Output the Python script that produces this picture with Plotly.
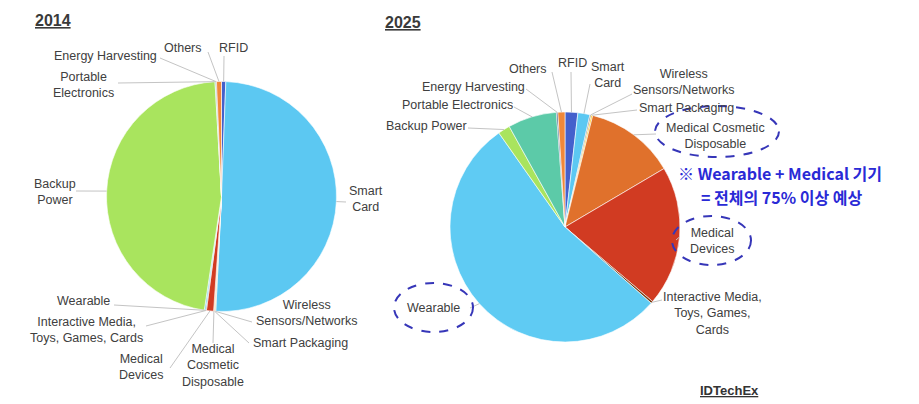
import math
import plotly.graph_objects as go

# ---------------- data ----------------
categories = [
    "RFID", "Smart Card", "Wireless Sensors/Networks", "Smart Packaging",
    "Medical Cosmetic Disposable", "Medical Devices",
    "Interactive Media, Toys, Games, Cards", "Wearable", "Backup Power",
    "Portable Electronics", "Energy Harvesting", "Others",
]
share_2014 = [0.6, 50.3, 0.1, 0.1, 0.1, 1.0, 0.1, 0.2, 46.8, 0.1, 0.1, 0.7]
share_2025 = [1.8, 1.7, 0.2, 0.2, 12.7, 19.8, 0.3, 54.0, 1.7, 6.9, 0.2, 1.0]
year_titles = ["2014", "2025"]

colors = [
    "#4460cc", "#5cc8f2", "#8c8c8c", "#ffc000", "#e0712c", "#d13b22",
    "#7a3a10", "#5fcbf3", "#a9e45e", "#5ccaa8", "#264478", "#f0883a",
]

# ---------------- layout constants ----------------
W, H = 919, 404
pies = [
    dict(values=share_2014, cx=221.5, cy=196.5, r=115),
    dict(values=share_2025, cx=565.0, cy=227.0, r=115),
]

# label text, text centre, leader start (pixels)
labels_2014 = {
    "RFID": ("RFID", 233, 48, 224, 56),
    "Smart Card": ("Smart<br>Card", 366, 199, 346, 202),
    "Wireless Sensors/Networks": ("Wireless<br>Sensors/Networks", 306, 313, 252, 322),
    "Smart Packaging": ("Smart Packaging", 300, 343, 249, 343),
    "Medical Cosmetic Disposable": ("Medical<br>Cosmetic<br>Disposable", 213, 365, 213, 343),
    "Medical Devices": ("Medical<br>Devices", 141, 367, 170, 368),
    "Interactive Media, Toys, Games, Cards": ("Interactive Media,<br>Toys, Games, Cards", 86, 330, 146, 326),
    "Wearable": ("Wearable", 83, 301, 114, 305),
    "Backup Power": ("Backup<br>Power", 55, 192, 76, 191),
    "Portable Electronics": ("Portable<br>Electronics", 83, 85, 118, 83),
    "Energy Harvesting": ("Energy Harvesting", 105, 56, 160, 58),
    "Others": ("Others", 183, 48, 208, 52),
}
labels_2025 = {
    "RFID": ("RFID", 572, 63, 571, 72),
    "Smart Card": ("Smart<br>Card", 608, 75, 590, 84),
    "Wireless Sensors/Networks": ("Wireless<br>Sensors/Networks", 683, 82, 632, 94),
    "Smart Packaging": ("Smart Packaging", 686, 108, 637, 110),
    "Medical Cosmetic Disposable": ("Medical Cosmetic<br>Disposable", 715, 136, 656, 134),
    "Medical Devices": ("Medical<br>Devices", 712, 241, 676, 240),
    "Interactive Media, Toys, Games, Cards": ("Interactive Media,<br>Toys, Games,<br>Cards", 712, 313, 662, 300),
    "Wearable": ("Wearable", 433, 308, 470, 308),
    "Backup Power": ("Backup Power", 426, 126, 468, 128),
    "Portable Electronics": ("Portable Electronics", 457, 105, 514, 107),
    "Energy Harvesting": ("Energy Harvesting", 473, 87, 526, 89),
    "Others": ("Others", 528, 69, 552, 72),
}
label_sets = [labels_2014, labels_2025]

LABEL_FONT = dict(family="Liberation Sans, Arial, sans-serif", size=12.5, color="#404040")
LEADER = dict(color="#c4c4c4", width=1)

fig = go.Figure()

shapes = []
annotations = []

for p, labset, title in zip(pies, label_sets, year_titles):
    cx, cy, r = p["cx"], p["cy"], p["r"]
    fig.add_trace(go.Pie(
        labels=categories, values=p["values"], sort=False,
        direction="clockwise", rotation=0,
        marker=dict(colors=colors, line=dict(color="#ffffff", width=0.6)),
        textinfo="none", hoverinfo="label+percent", showlegend=False,
        domain=dict(x=[(cx - r) / W, (cx + r) / W],
                    y=[1 - (cy + r) / H, 1 - (cy - r) / H]),
    ))
    total = sum(p["values"])
    cum = 0.0
    for cat, v in zip(categories, p["values"]):
        mid = (cum + v / 2) / total * 2 * math.pi
        cum += v
        ex = cx + r * math.sin(mid)
        ey = cy - r * math.cos(mid)
        text, tx, ty, lx, ly = labset[cat]
        shapes.append(dict(type="line", xref="x", yref="y", x0=lx, y0=ly, x1=ex, y1=ey,
                           line=LEADER, layer="above"))
        annotations.append(dict(text=text, x=tx, y=ty, xref="x", yref="y",
                                showarrow=False, font=LABEL_FONT, align="center",
                                xanchor="center", yanchor="middle", bgcolor="rgba(0,0,0,0)"))

# year titles
annotations.append(dict(text="<b><u>2014</u></b>", x=33, y=20, xref="x", yref="y", showarrow=False,
                        xanchor="left", yanchor="middle",
                        font=dict(family="Liberation Sans, Arial, sans-serif", size=16, color="#3a3a3a")))
annotations.append(dict(text="<b><u>2025</u></b>", x=383, y=22, xref="x", yref="y", showarrow=False,
                        xanchor="left", yanchor="middle",
                        font=dict(family="Liberation Sans, Arial, sans-serif", size=16, color="#3a3a3a")))

# highlight ellipses
for x0, x1, y0, y1 in [(655, 779, 106, 157), (672, 751, 216, 265), (394, 473, 283, 332)]:
    shapes.append(dict(type="circle", xref="x", yref="y", x0=x0, x1=x1, y0=y0, y1=y1,
                       line=dict(color="#3636b8", width=2, dash="dash"), layer="above"))

# note
NOTE_FONT = dict(family="Noto Sans CJK KR, sans-serif", size=16, color="#2a2ad6")
annotations.append(dict(text="<b>※ Wearable + Medical 기기</b>", x=780, y=173, xref="x", yref="y",
                        showarrow=False, xanchor="center", yanchor="middle", font=NOTE_FONT))
annotations.append(dict(text="<b>= 전체의 75% 이상 예상</b>", x=782, y=197, xref="x", yref="y",
                        showarrow=False, xanchor="center", yanchor="middle", font=NOTE_FONT))
annotations.append(dict(text="<b><u>IDTechEx</u></b>", x=729, y=390, xref="x", yref="y",
                        showarrow=False, xanchor="center", yanchor="middle",
                        font=dict(family="Liberation Sans, Arial, sans-serif", size=13, color="#333333")))

fig.update_layout(
    width=W, height=H, margin=dict(l=0, r=0, t=0, b=0),
    paper_bgcolor="#ffffff", plot_bgcolor="rgba(0,0,0,0)",
    xaxis=dict(range=[0, W], visible=False, fixedrange=True, domain=[0, 1]),
    yaxis=dict(range=[H, 0], visible=False, fixedrange=True, domain=[0, 1]),
    shapes=shapes, annotations=annotations,
)

fig.write_html("out.html")
